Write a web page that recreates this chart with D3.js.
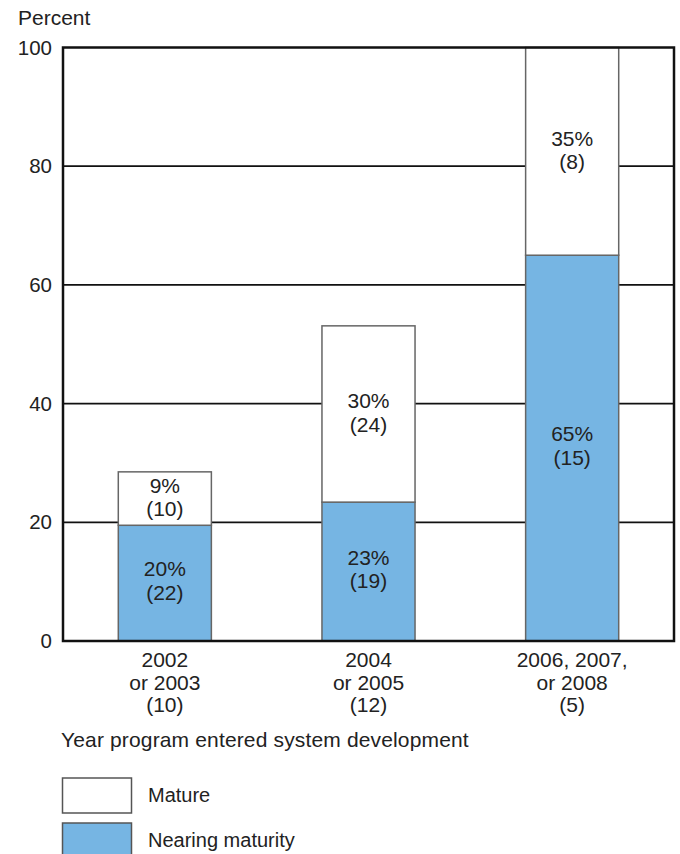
<!DOCTYPE html>
<html>
<head>
<meta charset="utf-8">
<script src="https://cdn.jsdelivr.net/npm/d3@7"></script>
<style>
    body { margin: 0; background: #fff; }
    svg { display: block; font-family: "Liberation Sans", Arial, Helvetica, sans-serif; }
    .lbl { fill: #222; font-size: 21px; }
    .leg { fill: #222; font-size: 20px; }
</style>
</head>
<body>
<svg id="svg" width="680" height="854"></svg>
<script>
// Data
const categories = ['2002 or 2003', '2004 or 2005', '2006, 2007, or 2008']
const categoryLines = [['2002', 'or 2003', '(10)'], ['2004', 'or 2005', '(12)'], ['2006, 2007,', 'or 2008', '(5)']]
const nearing = [19.5, 23.4, 65]
const mature = [9, 29.7, 35]
const nearingLabels = [['20%', '(22)'], ['23%', '(19)'], ['65%', '(15)']]
const matureLabels = [['9%', '(10)'], ['30%', '(24)'], ['35%', '(8)']]
const yTicks = [0, 20, 40, 60, 80, 100]

const blue = '#76b5e3'
const svg = d3.select('#svg')
const margin = { top: 47.5, right: 6, bottom: 213, left: 63 }
const width = 680, height = 854

const x = d3.scaleBand()
    .domain(categories)
    .range([margin.left, width - margin.right])
    .paddingInner(0.543)
    .paddingOuter(0.2715)

const y = d3.scaleLinear()
    .domain([0, 100])
    .range([height - margin.bottom, margin.top])

// Gridlines (under the bars)
svg.append('g')
    .selectAll('line')
    .data(yTicks.filter(d => d > 0 && d < 100))
    .join('line')
    .attr('x1', margin.left).attr('x2', width - margin.right)
    .attr('y1', d => y(d)).attr('y2', d => y(d))
    .attr('stroke', '#111').attr('stroke-width', 1.8)

// Bars
const bars = svg.append('g')
categories.forEach((c, i) => {
    bars.append('rect')
        .attr('x', x(c)).attr('width', x.bandwidth())
        .attr('y', y(nearing[i])).attr('height', y(0) - y(nearing[i]))
        .attr('fill', blue).attr('stroke', '#666').attr('stroke-width', 1.5)
    bars.append('rect')
        .attr('x', x(c)).attr('width', x.bandwidth())
        .attr('y', y(nearing[i] + mature[i])).attr('height', y(nearing[i]) - y(nearing[i] + mature[i]))
        .attr('fill', '#fff').attr('stroke', '#666').attr('stroke-width', 1.5)
})

// Labels in segments
const segLabel = (cx, cy, lines) => {
    const t = svg.append('text').attr('class', 'lbl').attr('text-anchor', 'middle')
    lines.forEach((l, k) => {
        t.append('tspan').attr('x', cx).attr('y', cy + (k - 0.5) * 23.5 + 7).text(l)
    })
}
categories.forEach((c, i) => {
    const cx = x(c) + x.bandwidth() / 2
    segLabel(cx, (y(0) + y(nearing[i])) / 2 - 2, nearingLabels[i])
    segLabel(cx, (y(nearing[i]) + y(nearing[i] + mature[i])) / 2 - 1, matureLabels[i])
})

// Frame
svg.append('rect')
    .attr('x', margin.left).attr('y', y(100))
    .attr('width', width - margin.right - margin.left).attr('height', y(0) - y(100))
    .attr('fill', 'none').attr('stroke', '#111').attr('stroke-width', 2.5)

// Y axis
const yAxis = svg.append('g')
    .attr('transform', `translate(${margin.left},0)`)
    .call(d3.axisLeft(y).tickValues(yTicks).tickSize(0).tickPadding(11))
yAxis.select('.domain').remove()
yAxis.selectAll('text').attr('class', 'lbl').attr('fill', null).style('font-size', '20.5px').attr('font-family', null)

svg.append('text').attr('class', 'lbl').attr('x', 18).attr('y', 25).text('Percent')

// X axis labels
categories.forEach((c, i) => {
    const t = svg.append('text').attr('class', 'lbl').attr('text-anchor', 'middle')
    categoryLines[i].forEach((l, k) => {
        t.append('tspan').attr('x', x(c) + x.bandwidth() / 2).attr('y', 667 + k * 22.5).text(l)
    })
})

svg.append('text').attr('class', 'lbl').attr('x', 61).attr('y', 747)
    .style('letter-spacing', '0.15px')
    .text('Year program entered system development')

// Legend
const legend = [['Mature', '#fff', 778], ['Nearing maturity', blue, 823]]
legend.forEach(([name, color, top]) => {
    svg.append('rect')
        .attr('x', 62.5).attr('y', top).attr('width', 69).attr('height', 35)
        .attr('fill', color).attr('stroke', '#555').attr('stroke-width', 1.5)
    svg.append('text').attr('class', 'leg').attr('x', 148).attr('y', top + 24).text(name)
})
</script>
</body>
</html>
